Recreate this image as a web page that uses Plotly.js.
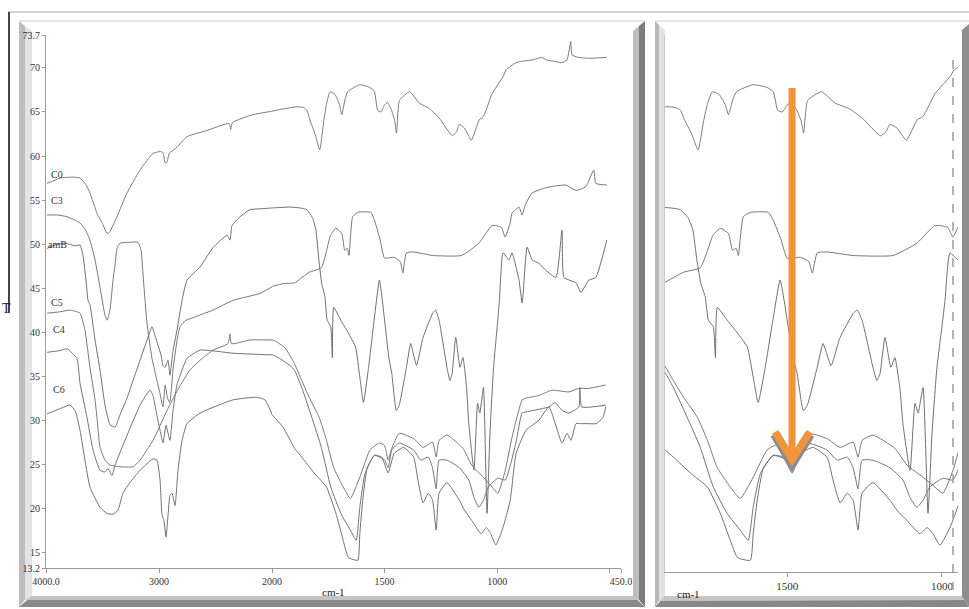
<!DOCTYPE html>
<html><head><meta charset="utf-8">
<script src="https://cdn.plot.ly/plotly-3.0.1.min.js"></script>
<style>html,body{margin:0;padding:0;background:#fff}#chart{width:969px;height:609px}</style>
</head><body><div id="chart"></div>
<script>
// ---- Data (wavenumber cm-1, %T) ----
const seriesNames = ['C0','C3','amB','C5','C4','C6'];

const wnC0 = [3991,3930,3876,3760,3699,3650,3611,3549,3500,3460,3440,3372,3283,3168,3053,2990,2965,2945,2929,2910,2841,2752,2575,2380,2365,2350,2168,2000,1960,1889,1860,1845,1832,1810,1788,1770,1757,1742,1720,1700,1690,1675,1664,1611,1566,1545,1531,1516,1500,1487,1469,1455,1447,1434,1389,1345,1301,1257,1199,1180,1168,1146,1115,1080,1061,1022,974,960,916,880,845,801,780,757,712,690,673,668,640,593,513];
const tC0 = [56.9,57.2,57.5,57.6,57.5,56.8,55.8,53.5,52.3,51.2,51.3,53.1,55.8,58.4,60.3,60.5,60.4,59.2,59.3,60.3,61.0,62.2,62.9,63.7,63.0,63.8,64.7,65.1,65.3,65.6,65.5,65.2,64.1,62.6,60.7,64.0,66.0,67.3,67.0,65.8,64.7,66.5,67.3,68.1,67.8,67.3,65.2,65.0,65.8,66.1,65.2,64.0,62.6,66.3,67.3,66.0,65.4,64.3,62.3,62.8,63.6,63.2,61.8,64.1,64.5,67.1,69.0,69.8,70.6,70.8,70.9,71.2,70.9,70.8,70.6,70.9,73.0,71.5,71.2,71.1,71.2];

const wnC3 = [3991,3900,3814,3699,3650,3611,3566,3522,3478,3460,3434,3407,3389,3372,3345,3257,3186,3159,3142,3124,3106,3062,3018,2991,2965,2945,2925,2905,2876,2841,2814,2761,2708,2522,2345,2106,1951,1900,1835,1781,1760,1740,1716,1690,1677,1665,1658,1642,1619,1561,1545,1520,1500,1458,1430,1419,1403,1371,1287,1158,1081,1023,981,965,942,934,903,889,876,845,783,740,695,650,607,571,562,513];
const tC3 = [53.3,53.3,53.1,52.4,51.6,50.45,48.2,45.1,41.9,41.35,42.5,45.9,47.6,49.5,50.1,50.2,50.2,49.3,46.7,43.6,41.0,37.0,34.5,33.0,31.5,34.0,32.5,32.0,35.7,39.0,40.6,41.35,41.6,42.5,43.6,44.4,45.5,45.6,46.8,47.3,49.0,51.0,51.8,51.2,49.3,49.5,48.7,53.1,53.6,53.6,52.7,50.5,48.4,48.5,48.0,46.7,49.0,49.1,48.7,48.7,50.1,52.1,51.9,50.8,52.4,53.5,54.2,53.3,54.4,55.8,56.4,56.6,56.7,56.1,56.5,58.4,56.9,56.7];

const wnAmB = [3991,3920,3832,3743,3699,3673,3646,3628,3611,3566,3522,3478,3434,3389,3345,3283,3230,3168,3106,3062,3035,3009,2982,2965,2947,2920,2903,2876,2841,2796,2752,2637,2522,2398,2372,2354,2283,2195,2106,2000,1920,1876,1845,1819,1805,1792,1779,1765,1755,1739,1732,1726,1694,1661,1629,1610,1594,1571,1548,1523,1510,1481,1468,1448,1435,1403,1384,1371,1358,1329,1287,1274,1258,1223,1210,1200,1184,1165,1152,1136,1126,1103,1087,1077,1061,1045,1032,1016,1000,990,974,947,934,903,889,867,845,814,783,739,712,703,650,628,593,562,513];
const tAmB = [49.5,49.9,50.1,49.8,49.9,48.7,45.9,43.6,43.1,39.1,35.7,31.7,29.5,29.2,30.6,32.5,34.5,36.8,39.1,40.6,39.6,38.5,37.4,36.2,36.0,36.8,35.1,37.9,40.2,43.6,45.9,47.4,49.6,51.0,50.45,52.1,53.1,53.9,54.0,54.1,54.2,54.1,53.9,52.9,51.6,48.2,45.5,44.0,41.35,40.6,37.1,42.8,41.35,39.9,38.3,34.9,32.0,36.0,41.0,45.9,43.6,37.1,35.3,31.1,31.7,36.0,38.7,37.4,36.2,39.4,42.1,42.5,41.35,36.0,34.5,35.3,39.4,36.0,37.1,33.7,29.6,24.3,31.9,30.8,33.7,19.4,28.5,36.0,40.6,43.6,49.0,48.2,49.0,45.9,43.3,49.65,48.2,47.8,47.0,46.2,51.6,46.2,45.6,44.5,45.9,46.2,50.45];

const wnC5 = [3991,3876,3788,3699,3655,3611,3566,3549,3522,3478,3434,3345,3230,3168,3053,2929,2814,2726,2637,2522,2389,2372,2360,2327,2195,1996,1942,1900,1868,1835,1790,1758,1726,1684,1652,1610,1565,1523,1500,1484,1468,1435,1371,1329,1287,1271,1258,1223,1152,1113,1061,1029,997,964,934,889,872,814,757,681,637,593,518];
const tC5 = [42.15,42.3,42.5,42.15,40.2,36.0,32.3,30.3,26.9,25.45,24.9,24.7,24.7,25.45,27.7,31.1,33.9,35.7,36.8,37.95,38.7,39.8,38.7,38.7,39.1,39.1,38.2,36.4,34.5,32.6,30.3,27.7,24.6,22.4,21.1,23.5,26.6,27.4,27.1,25.45,26.8,28.5,27.9,26.9,27.5,25.8,27.7,28.3,26.8,24.9,23.5,22.6,21.7,24.3,28.05,32.3,32.5,32.8,33.4,33.2,33.6,33.6,34.0];

const wnC4 = [3991,3876,3814,3726,3699,3637,3584,3522,3478,3451,3416,3389,3301,3168,3080,3053,3027,2991,2965,2938,2903,2876,2841,2796,2752,2637,2345,1996,1920,1900,1868,1823,1781,1739,1694,1652,1626,1610,1587,1545,1500,1484,1468,1435,1371,1339,1306,1287,1271,1258,1223,1168,1126,1103,1081,1061,1039,997,964,916,889,858,770,743,712,681,637,633,624,518];
const tC4 = [37.7,37.9,38.1,37.0,34.2,30.3,26.6,24.3,24.1,24.5,23.7,24.9,27.7,31.7,33.4,32.8,31.1,28.85,27.4,29.4,27.7,31.1,34.0,35.7,37.0,37.95,37.6,37.4,36.2,35.67,33.7,30.3,26.9,22.4,19.4,17.5,16.35,20.1,23.9,26.0,25.45,24.6,26.6,27.4,26.6,25.45,25.8,24.6,22.2,25.45,25.45,24.6,23.2,21.2,20.1,20.9,22.4,23.4,23.2,27.5,30.8,31.0,31.5,32.0,31.1,30.8,31.5,33.7,31.5,31.7];

const wnC6 = [3991,3876,3788,3743,3699,3655,3611,3522,3460,3407,3363,3319,3257,3168,3053,3018,2991,2973,2956,2938,2920,2903,2885,2858,2832,2796,2752,2637,2345,2133,2062,1951,1900,1868,1813,1758,1716,1684,1661,1619,1610,1597,1577,1545,1513,1484,1458,1416,1371,1352,1329,1306,1287,1271,1258,1223,1168,1145,1113,1071,1048,1029,1006,974,942,916,872,814,770,712,690,672,650,630,600,560,530,518];
const tC6 = [30.7,31.3,31.7,31.1,28.85,25.45,22.4,20.1,19.4,19.3,19.76,21.7,22.9,24.3,25.6,25.45,23.2,19.2,18.6,16.7,19.2,21.45,21.7,20.3,24.3,27.7,29.6,30.8,32.3,32.6,32.3,29.2,26.8,25.8,24.0,22.4,19.4,16.35,14.4,14.08,17.1,20.9,24.6,26.0,25.8,24.0,26.2,26.9,25.8,23.2,20.6,21.7,20.9,17.5,21.7,22.9,20.9,19.76,18.6,17.1,17.8,17.1,15.8,17.8,20.9,26.2,28.85,30.0,31.5,27.4,28.5,27.7,29.6,29.6,29.6,29.6,30.3,31.5];

const labelWn = [3900,3900,3895,3905,3885,3885];
const labelT = [57.95,55.0,49.9,43.4,40.3,33.5];

const yTickVals = [13.2,15,20,25,30,35,40,45,50,55,60,65,70,73.7];
const yTickText = ['13.2','15','20','25','30','35','40','45','50','55','60','65','70','73.7'];
const xTickHi = [4000,3000]; const xTextHi = ['4000.0','3000'];
const xTickLo = [2000,1500,1000,500,450]; const xTextLo = ['2000','1500','1000','','450.0'];
const xTickZoom = [1500,1000]; const xTextZoom = ['1500','1000'];

// ---- Build traces ----
const allWn = [wnC0,wnC3,wnAmB,wnC5,wnC4,wnC6];
const allT = [tC0,tC3,tAmB,tC5,tC4,tC6];
const lineColors = ['#7c7c7c','#787878','#707070','#7a7a7a','#747474','#727272'];
const traces = [];
const BREAK = 2000;
allWn.forEach((wn,i)=>{
  const t = allT[i];
  const hiX=[],hiY=[],loX=[],loY=[];
  for(let k=0;k<wn.length;k++){
    if(wn[k]>=BREAK || (k>0 && wn[k-1]>=BREAK)){hiX.push(wn[k]);hiY.push(t[k]);}
    if(wn[k]<=BREAK || (k<wn.length-1 && wn[k+1]<=BREAK)){loX.push(wn[k]);loY.push(t[k]);}
  }
  const line={color:lineColors[i],width:1,shape:'spline',smoothing:0.45};
  traces.push({x:hiX,y:hiY,xaxis:'x',yaxis:'y',mode:'lines',line,hoverinfo:'skip',name:seriesNames[i]});
  traces.push({x:loX,y:loY,xaxis:'x2',yaxis:'y',mode:'lines',line,hoverinfo:'skip',name:seriesNames[i]});
  traces.push({x:wn,y:t,xaxis:'x3',yaxis:'y2',mode:'lines',line,hoverinfo:'skip',name:seriesNames[i]});
});

// ---- Layout helpers (pixel -> paper) ----
const W=969,H=609;
const px=x=>x/W, py=y=>1-y/H;
const poly=(pts,fill)=>({type:'path',xref:'paper',yref:'paper',layer:'below',
  path:'M '+pts.map(p=>px(p[0])+','+py(p[1])).join(' L ')+' Z',fillcolor:fill,line:{width:0}});
const seg=(x0,y0,x1,y1,color,width,dash)=>({type:'line',xref:'paper',yref:'paper',
  x0:px(x0),y0:py(y0),x1:px(x1),y1:py(y1),line:{color,width,dash:dash||'solid'}});

const shapes=[
  seg(8,12,969,12,'#a8a8a8',1),
  seg(9,12,9,313,'#444',2),
  // left panel frame
  seg(19,21,645,21,'#cfcfcf',1),
  poly([[19,21],[25,26],[25,600],[19,607]],'#bdbdbd'),
  poly([[25,26],[32,31],[32,596],[25,600]],'#e4e4e4'),
  poly([[19,607],[32,596],[633,596],[645,607]],'#8a8a8a'),
  poly([[25,600],[32,596],[633,596],[639,600]],'#c4c4c4'),
  poly([[633,31],[639,26],[639,600],[633,596]],'#bdbdbd'),
  poly([[639,26],[645,21],[645,607],[639,600]],'#7c7c7c'),
  // right panel frame
  seg(655,21,969,21,'#cfcfcf',1),
  poly([[655,21],[659,25],[659,601],[655,607]],'#b8b8b8'),
  poly([[659,25],[665,30],[665,596],[659,601]],'#e2e2e2'),
  poly([[655,607],[665,596],[962,596],[969,607]],'#888888'),
  poly([[659,601],[665,596],[962,596],[966,600]],'#c6c6c6'),
  poly([[962,30],[969,24],[969,607],[962,596]],'#8e8e8e'),
  // dashed marker line in zoom panel
  seg(953,60,953,590,'#9a9a9a',1.5,'dash'),
  // orange arrow (shadow + arrow)
  {type:'path',xref:'paper',yref:'paper',layer:'above',
   path:`M ${px(775)},${py(434)} L ${px(792)},${py(463)} L ${px(810)},${py(434)}`,line:{color:'#8c8c8c',width:10}},
  seg(792,88,792,455,'#F39439',7),
  {type:'path',xref:'paper',yref:'paper',layer:'above',
   path:`M ${px(775)},${py(432)} L ${px(792)},${py(460)} L ${px(810)},${py(432)}`,line:{color:'#F39439',width:7}}
];

const serif='"Liberation Serif", "DejaVu Serif", serif';
const annotations = seriesNames.map((n,i)=>({x:labelWn[i],y:labelT[i],xref:'x',yref:'y',text:n,showarrow:false,
  font:{family:serif,size:10,color:'#333'},xanchor:'center',yanchor:'middle'}));
annotations.push({x:px(333),y:py(600),xref:'paper',yref:'paper',text:'cm-1',showarrow:false,font:{family:serif,size:11,color:'#222'}});
annotations.push({x:px(702),y:py(602),xref:'paper',yref:'paper',text:'cm-1',showarrow:false,font:{family:serif,size:11,color:'#222'}});
annotations.push({x:px(0),y:py(308),xref:'paper',yref:'paper',text:'T',showarrow:false,xanchor:'left',yanchor:'middle',font:{family:serif,size:14,color:'#222'}});

const axBase={showgrid:false,zeroline:false,showline:true,linecolor:'#9a9a9a',linewidth:1,ticks:'outside',
  tickcolor:'#9a9a9a',ticklen:4,tickfont:{family:serif,size:10,color:'#333'},fixedrange:true,automargin:false};

const layout={
  width:W,height:H,margin:{l:0,r:0,t:0,b:0},paper_bgcolor:'#fff',plot_bgcolor:'rgba(0,0,0,0)',
  showlegend:false,shapes,annotations,
  xaxis:Object.assign({},axBase,{domain:[px(46),px(272)],range:[4000,2000],anchor:'y',tickmode:'array',tickvals:xTickHi,ticktext:xTextHi}),
  xaxis2:Object.assign({},axBase,{domain:[px(272),px(621)],range:[2000,450],anchor:'y',tickmode:'array',tickvals:xTickLo,ticktext:xTextLo}),
  yaxis:Object.assign({},axBase,{domain:[py(568),py(35.4)],range:[13.2,73.7],anchor:'x',tickmode:'array',tickvals:yTickVals,ticktext:yTickText,ticklen:3}),
  xaxis3:Object.assign({},axBase,{domain:[px(665),px(958)],range:[1895,948],anchor:'y2',tickmode:'array',tickvals:xTickZoom,ticktext:xTextZoom,tickfont:{family:serif,size:11,color:'#333'}}),
  yaxis2:Object.assign({},axBase,{domain:[py(572),py(35.4)],range:[12.75,73.7],anchor:'x3',showticklabels:false,ticks:'',linecolor:'#c8c8c8'})
};
Plotly.newPlot('chart',traces,layout,{staticPlot:true,displayModeBar:false});
</script></body></html>
